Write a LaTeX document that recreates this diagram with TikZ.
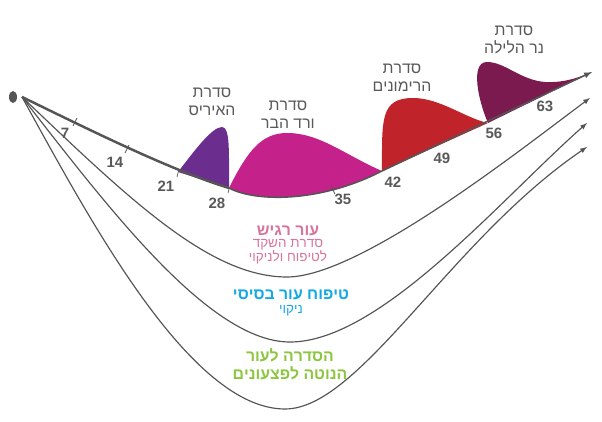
\documentclass[tikz,border=0pt]{standalone}
\usepackage{fontspec}
\setmainfont{Liberation Sans}
\usepackage{tikz}
\usetikzlibrary{arrows}
\usetikzlibrary{positioning}
\TeXXeTstate=1
\newcommand{\heb}[1]{\beginR #1\endR}
\definecolor{linegray}{HTML}{555555}
\definecolor{textgray}{HTML}{595959}
\definecolor{irispurple}{HTML}{6B2E8F}
\definecolor{wildrose}{HTML}{C4218B}
\definecolor{pomred}{HTML}{C1232B}
\definecolor{nightplum}{HTML}{7A1A4F}
\definecolor{sensitivepink}{HTML}{D8749A}
\definecolor{basicblue}{HTML}{14A8E4}
\definecolor{acnegreen}{HTML}{8CC63F}

\begin{document}
\begin{tikzpicture}[x=0.03cm,y=-0.03cm,
	series_label/.style={text=textgray,font=\fontsize{13.5}{15.5}\selectfont,align=center,inner sep=0pt},
	day_label/.style={text=textgray,font=\bfseries\fontsize{12.8}{14}\selectfont,inner sep=0pt},
	route/.style={draw=linegray,line width=1pt,-latex},
	tick_mark/.style={draw=linegray,line width=0.6pt}]
	\useasboundingbox (0,0) rectangle (602,422);
	% points on the main route
	\coordinate (origin) at (22,97);
	\coordinate (d21) at (178,172);
	\coordinate (d28) at (229,188);
	\coordinate (d42) at (382,171);
	\coordinate (d56) at (488,123);
	\coordinate (tipmain) at (592,72);
	\coordinate (tipsens) at (590,98);
	\coordinate (tipbasic) at (587,123);
	\coordinate (tipacne) at (587,147);
	\coordinate (lowsens) at (287,277);
	\coordinate (lowbasic) at (290,342);
	\coordinate (lowacne) at (285,409);
	% series shapes
	\fill[irispurple] (d21) .. controls (195,150) and (212,127) .. (222,127)
		.. controls (230,127) and (229,150) .. (d28) -- cycle;
	\fill[wildrose] (d28) .. controls (248,150) and (262,133) .. (287,133)
		.. controls (320,133) and (345,155) .. (d42)
		.. controls (320,203) and (255,202) .. (d28) -- cycle;
	\fill[pomred] (d42) .. controls (382,120) and (380,98) .. (413,98)
		.. controls (440,98) and (465,118) .. (d56) -- cycle;
	\fill[nightplum] (d56) .. controls (478,100) and (470,62) .. (487,62)
		.. controls (505,62) and (520,80) .. (545,82)
		.. controls (565,83) and (580,77) .. (tipmain) -- cycle;
	% main route
	\draw[linegray,line width=2.1pt] (origin) .. controls (90,130) and (170,170) .. (d28);
	\draw[linegray,line width=1.3pt] (d28) .. controls (255,202) and (320,203) .. (d42);
	\draw[route,line width=1.3pt] (d42) -- (tipmain);
	% tick marks
	\draw[tick_mark] (75,122) +(-2,4) -- +(2,-4);
	\draw[tick_mark] (127,149) +(-2,4) -- +(2,-4);
	\draw[tick_mark] (178,173) +(-1,4) -- +(1,-4);
	\draw[tick_mark] (229,189) +(-1,4) -- +(0,0);
	\draw[tick_mark] (333,190) +(-2,-4) -- +(2,4);
	% lower routes
	\draw[route] (origin) .. controls (130,200) and (210,277) .. (lowsens)
		.. controls (360,277) and (520,150) .. (tipsens);
	\draw[route] (origin) .. controls (110,210) and (210,342) .. (lowbasic)
		.. controls (380,342) and (500,200) .. (tipbasic);
	\draw[route] (origin) .. controls (90,220) and (190,409) .. (lowacne)
		.. controls (360,409) and (450,240) .. (tipacne);
	% start dot
	\fill[linegray] (13,97) ellipse [x radius=4, y radius=6];
	% day numbers
	\node[day_label] (n7) at (65,133) {7};
	\node[day_label] (n14) at (115,162) {14};
	\node[day_label] (n21) at (166,186) {21};
	\node[day_label] (n28) at (217,203) {28};
	\node[day_label] (n35) at (343,199) {35};
	\node[day_label] (n42) at (393,182) {42};
	\node[day_label] (n49) at (442,158) {49};
	\node[day_label] (n56) at (494,133) {56};
	\node[day_label] (n63) at (545,106) {63};
	% series names
	\node[series_label] (iris) at (212,102) {\heb{סדרת}\\\heb{האיריס}};
	\node[series_label] (rose) at (288,115) {\heb{סדרת}\\\heb{ורד הבר}};
	\node[series_label] (pomegranate) at (402,78) {\heb{סדרת}\\\heb{הרימונים}};
	\node[series_label] (night) at (514,40) {\heb{סדרת}\\\heb{נר הלילה}};
	% skin types
	\node[text=sensitivepink,align=center,inner sep=0pt] (sensitive) at (288,245)
		{{\bfseries\fontsize{13.5}{17}\selectfont\heb{עור רגיש}}\\[-1pt]
		{\fontsize{11.5}{17}\selectfont\heb{סדרת השקד}}\\
		{\fontsize{11.5}{17}\selectfont\heb{לטיפוח ולניקוי}}};
	\node[text=basicblue,align=center,inner sep=0pt] (basic) at (291,303)
		{{\bfseries\fontsize{13.5}{17}\selectfont\heb{טיפוח עור בסיסי}}\\
		{\fontsize{11.5}{15}\selectfont\heb{ניקוי}}};
	\node[text=acnegreen,align=center,inner sep=0pt,font=\bfseries\fontsize{13.5}{15.5}\selectfont] (acne) at (290,364)
		{\heb{הסדרה לעור}\\\heb{הנוטה לפצעונים}};
\end{tikzpicture}
\end{document}
